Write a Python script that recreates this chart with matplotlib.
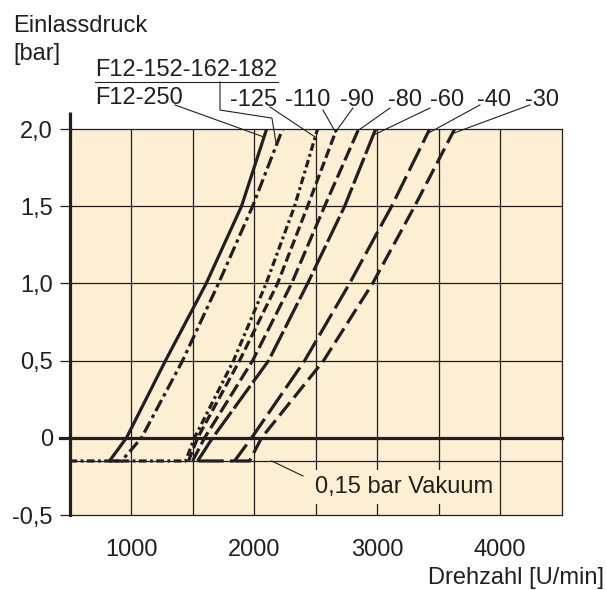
import matplotlib.pyplot as plt
import numpy as np

plt.rcParams['font.family'] = ['Liberation Sans', 'DejaVu Sans']
plt.rcParams['lines.scale_dashes'] = False

# pressure levels at which the curves were read
druck = [-0.15, 0.0, 0.5, 1.0, 1.5, 2.0]

# speed (U/min) of each curve at those levels
n_f12_250 = [825, 963, 1280, 1611, 1898, 2102]
n_f12_152 = [923, 1085, 1419, 1711, 1988, 2232]
n_125 = [1443, 1516, 1833, 2098, 2329, 2516]
n_110_90 = [1467, 1541, 1882, 2191, 2435, 2671]
n_80 = [1500, 1598, 1988, 2305, 2573, 2850]
n_60 = [1541, 1663, 2118, 2435, 2736, 2988]
n_40 = [1841, 1980, 2411, 2776, 3118, 3427]
n_30 = [1963, 2061, 2565, 2963, 3305, 3630]

# where the flat vacuum part of a curve starts (None = no flat part)
n_vakuum_start = [None, 825, 500, None, None, None, 1550, 1850]

vakuum = -0.15
y_ticks = [-0.5, 0, 0.5, 1.0, 1.5, 2.0]
y_ticklabels = ['-0,5', '0', '0,5', '1,0', '1,5', '2,0']
x_ticks = [1000, 2000, 3000, 4000]

curves = [n_f12_250, n_f12_152, n_125, n_110_90, n_80, n_60, n_40, n_30]
styles = ['-',
          (0, (9, 3, 2.5, 3)),
          (0, (5.5, 2.5, 2, 2.5)),
          (0, (7, 3)),
          (0, (10, 3.5)),
          (0, (20, 3)),
          (0, (18, 4.5)),
          (0, (12, 4.5))]

ink = '#231f20'
bg = '#fdefd3'

fig = plt.figure(figsize=(6.06, 5.90), dpi=100)
ax = fig.add_axes([0.1147, 0.1271, 0.8122, 0.6542])
ax.set_facecolor(bg)
ax.set_xlim(500, 4500)
ax.set_ylim(-0.5, 2.0)

# grid
for xv in np.arange(1000, 4500, 500):
    ax.axvline(xv, color=ink, lw=0.9, zorder=1)
for yv in [0.5, 1.0, 1.5]:
    ax.axhline(yv, color=ink, lw=0.9, zorder=1)
ax.axhline(vakuum, color=ink, lw=0.9, zorder=1)
ax.plot([-0.02, 1.0], [0, 0], color=ink, lw=2.3, zorder=2,
        transform=ax.get_yaxis_transform(), clip_on=False)

# curves
for n, st, start in zip(curves, styles, n_vakuum_start):
    xs = list(n)
    ys = list(druck)
    if start is not None:
        xs = [start] + xs
        ys = [vakuum] + ys
    ax.plot(xs, ys, color=ink, lw=2.3, linestyle=st, zorder=3,
            solid_capstyle='butt', dash_capstyle='butt')

# spines and ticks
for s in ['top', 'right', 'bottom']:
    ax.spines[s].set_linewidth(0.9)
    ax.spines[s].set_color(ink)
ax.spines['left'].set_linewidth(2.3)
ax.spines['left'].set_color(ink)
ax.plot([0, 0], [1.0, 1.045], color=ink, lw=2.3, transform=ax.transAxes,
        clip_on=False, solid_capstyle='butt')

ax.set_yticks(y_ticks)
ax.set_yticklabels(y_ticklabels)
ax.set_xticks(x_ticks)
ax.set_xticklabels([str(v) for v in x_ticks])
ax.tick_params(axis='y', length=7, width=0.9, color=ink, pad=5,
               labelsize=17, labelcolor=ink)
ax.tick_params(axis='x', length=0, pad=17, labelsize=17, labelcolor=ink)

# labels at the curve tops
fs = 17
ax.text(707, 2.380, 'F12-152-162-182', fontsize=fs, color=ink,
        va='center', ha='left', clip_on=False)
ax.plot([707, 2194], [2.305, 2.305], color=ink, lw=0.8, clip_on=False)
ax.text(707, 2.198, 'F12-250', fontsize=fs, color=ink,
        va='center', ha='left', clip_on=False)

ax.plot([1723, 1723, 2145, np.interp(1.896, druck, n_f12_152)],
        [2.305, 2.123, 2.071, 1.896], color=ink, lw=0.8, clip_on=False)
ax.plot([1357, np.interp(1.948, druck, n_f12_250)], [2.156, 1.948],
        color=ink, lw=0.8, clip_on=False)

labels = ['-125', '-110', '-90', '-80', '-60', '-40', '-30']
label_x = [1804, 2251, 2698, 3088, 3429, 3811, 4201]
lead_start = [(2129, 2.143), (2560, 2.123), (2803, 2.136), (3104, 2.136),
              (3429, 2.136), (3835, 2.156), (4241, 2.156)]
lead_curve = [n_125, n_110_90, n_110_90, n_80, n_60, n_40, n_30]
lead_y = [1.948, 1.98, 1.98, 1.99, 1.96, 1.97, 1.97]
for lab, lx, (sx, sy), cn, ly in zip(labels, label_x, lead_start,
                                     lead_curve, lead_y):
    ax.text(lx, 2.188, lab, fontsize=fs, color=ink, va='center',
            ha='left', clip_on=False)
    ax.plot([sx, np.interp(ly, druck, cn)], [sy, ly], color=ink, lw=0.8,
            clip_on=False)

# vacuum note
ax.text(2495, -0.318, '0,15 bar Vakuum', fontsize=fs, color=ink,
        va='center', ha='left', zorder=5,
        bbox=dict(boxstyle='square,pad=0.25', fc=bg, ec='none'))
ax.plot([2143, 2397], [vakuum, -0.247], color=ink, lw=0.8, zorder=4)

fig.text(13 / 606, 1 - 26 / 590, 'Einlassdruck', fontsize=fs, color=ink,
         va='center', ha='left')
fig.text(13 / 606, 1 - 54 / 590, '[bar]', fontsize=fs, color=ink,
         va='center', ha='left')
fig.text(604 / 606, 1 - 578 / 590, 'Drehzahl [U/min]', fontsize=fs,
         color=ink, va='center', ha='right')

fig.savefig('out.png', dpi=100)
